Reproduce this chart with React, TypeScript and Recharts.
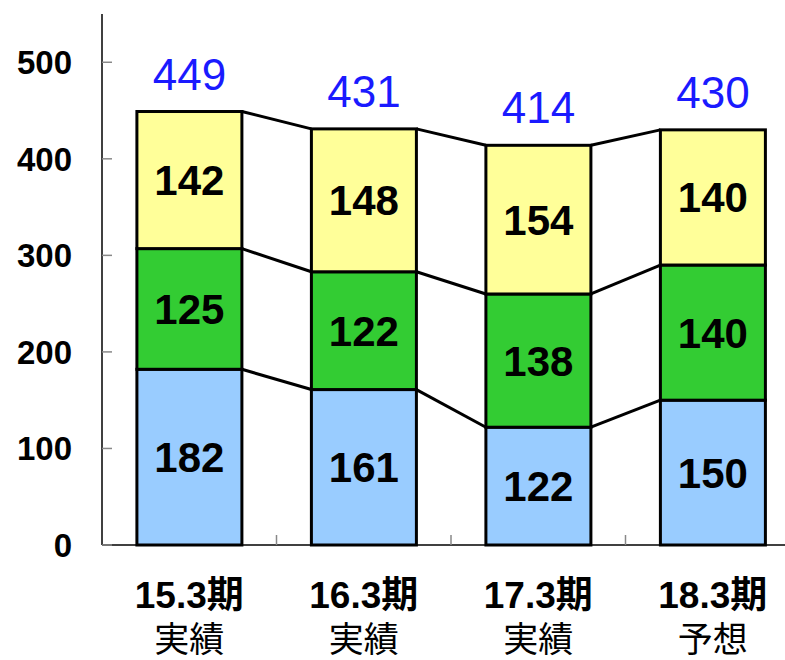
import { Bar, BarChart, LabelList, XAxis, YAxis } from "recharts"

const periods = ["15.3期", "16.3期", "17.3期", "18.3期"]
const kinds = ["実績", "実績", "実績", "予想"]
const bottomValues = [182, 161, 122, 150]
const middleValues = [125, 122, 138, 140]
const topValues = [142, 148, 154, 140]
const totals = [449, 431, 414, 430]
const yTicks = [0, 100, 200, 300, 400, 500]

const series = [bottomValues, middleValues, topValues]

const data = periods.map((name, i) => ({
  name,
  kind: kinds[i],
  bottom: bottomValues[i],
  middle: middleValues[i],
  top: topValues[i],
  total: totals[i],
}))

const FONT = "'Liberation Sans', Arial, 'Noto Sans CJK JP', sans-serif"
const WIDTH = 800
const HEIGHT = 660
const AXIS_W = 102
const AXIS_H = 115
const BAND = (WIDTH - AXIS_W) / periods.length

// cumulative top of stack level s for category i
const cumAt = (s: number, i: number) => {
  let sum = 0
  for (let k = 0; k <= s; k++) sum += series[k][i]
  return sum
}

// segment rect plus the link line to the same level on the next bar
function segmentShape(s: number, fill: string) {
  return (props: any) => {
    const { x, y, width, height, index } = props
    const ppu = height / series[s][index]
    const base = y + cumAt(s, index) * ppu
    let link = null
    if (index < periods.length - 1) {
      const ny = base - cumAt(s, index + 1) * ppu
      link = (
        <line x1={x + width} y1={y} x2={x + BAND} y2={ny} stroke="#000" strokeWidth={3} />
      )
    }
    return (
      <g>
        <rect x={x} y={y} width={width} height={height} fill={fill} stroke="#000" strokeWidth={3} />
        {link}
      </g>
    )
  }
}

function YTick({ x, y, payload }: any) {
  return (
    <g>
      <line x1={x} x2={x + 10} y1={y} y2={y} stroke="#888" strokeWidth={1.5} />
      <text
        x={x - 30}
        y={y}
        dy="0.36em"
        textAnchor="end"
        fontFamily={FONT}
        fontWeight="bold"
        fontSize={33}
        fill="#000"
      >
        {payload.value}
      </text>
    </g>
  )
}

function XTick({ x, y, payload, index }: any) {
  return (
    <g>
      {index > 0 && (
        <line x1={x - BAND / 2} x2={x - BAND / 2} y1={y} y2={y - 10} stroke="#888" strokeWidth={1.5} />
      )}
      <text x={x} y={y + 63} textAnchor="middle" fontFamily={FONT} fontWeight="bold" fontSize={37} fill="#000">
        {payload.value}
      </text>
      <text x={x} y={y + 107} textAnchor="middle" fontFamily={FONT} fontSize={35} fill="#000">
        {kinds[index]}
      </text>
    </g>
  )
}

const inner = { fill: "#000", fontFamily: FONT, fontWeight: "bold", fontSize: 42 }

export default function App() {
  return (
    <div
      style={{
        position: "absolute",
        left: 0,
        top: 0,
        width: 785,
        height: 660,
        overflow: "hidden",
        background: "#fff",
      }}
    >
      <BarChart
        width={WIDTH}
        height={HEIGHT}
        data={data}
        margin={{ top: 14, right: 0, left: 0, bottom: 0 }}
        barCategoryGap="20%"
      >
        <XAxis
          dataKey="name"
          height={AXIS_H}
          tickSize={0}
          tickMargin={0}
          axisLine={{ stroke: "#000", strokeWidth: 1.5 }}
          tickLine={false}
          tick={<XTick />}
          interval={0}
        />
        <YAxis
          width={AXIS_W}
          domain={[0, 550]}
          ticks={yTicks}
          tickSize={0}
          tickMargin={0}
          axisLine={{ stroke: "#000", strokeWidth: 1.5 }}
          tickLine={false}
          tick={<YTick />}
          interval={0}
        />
        <Bar dataKey="bottom" stackId="a" shape={segmentShape(0, "#99ccff")} isAnimationActive={false}>
          <LabelList dataKey="bottom" position="center" {...inner} />
        </Bar>
        <Bar dataKey="middle" stackId="a" shape={segmentShape(1, "#33cc33")} isAnimationActive={false}>
          <LabelList dataKey="middle" position="center" {...inner} />
        </Bar>
        <Bar dataKey="top" stackId="a" shape={segmentShape(2, "#ffff99")} isAnimationActive={false}>
          <LabelList dataKey="top" position="center" {...inner} />
          <LabelList
            dataKey="total"
            position="top"
            offset={22}
            fill="#1a1aff"
            fontFamily={FONT}
            fontSize={44}
          />
        </Bar>
      </BarChart>
    </div>
  )
}
